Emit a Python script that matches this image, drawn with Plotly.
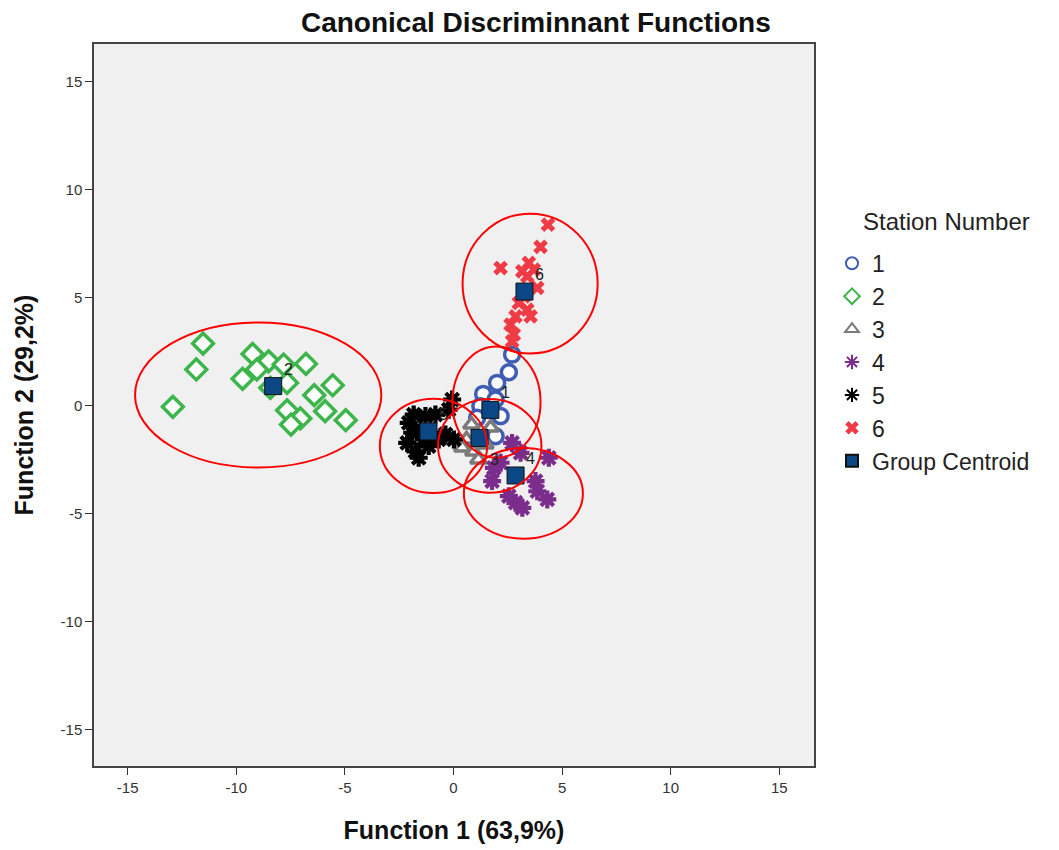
import plotly.graph_objects as go

# ---- data ----
g1_x = [2.70, 2.55, 2.01, 1.37, 1.94, 1.24, 2.17, 1.94, 1.09]
g1_y = [2.36, 1.54, 1.05, 0.54, 0.28, -0.03, -0.49, -1.42, -0.57]

g2_x = [-11.53, -11.84, -12.92, -9.25, -8.51, -7.82, -6.79, -9.05, -9.71,
        -8.43, -7.66, -5.56, -6.41, -7.66, -7.05, -7.48, -5.91, -4.96]
g2_y = [2.87, 1.67, -0.06, 2.39, 2.05, 1.90, 1.93, 1.67, 1.24,
        0.82, 1.05, 0.94, 0.48, -0.22, -0.60, -0.88, -0.26, -0.68]

g3_x = [0.83, 0.60, 0.92, 1.47, 1.71, 1.15, 0.41]
g3_y = [-0.88, -1.57, -2.13, -1.81, -1.02, -2.50, -1.94]

g4_x = [2.70, 4.39, 3.09, 1.86, 1.78, 3.78, 3.86, 4.32, 2.86, 3.17, 2.55, 2.17]
g4_y = [-1.73, -2.42, -2.19, -2.89, -3.50, -3.50, -3.97, -4.35, -4.50, -4.74, -4.20, -2.65]

g5_x = [-1.83, -2.06, -1.90, -2.13, -1.75, -1.60, -1.14, -0.68, -0.37, 0.02,
        -0.22, -0.06, -1.29, -0.83, -1.52, -1.37]
g5_y = [-0.42, -0.80, -1.26, -1.73, -2.12, -2.42, -1.88, -1.57, -1.34, -1.57,
        -0.19, 0.28, -0.49, -0.42, -1.11, -1.57]

g6_x = [4.35, 4.01, 2.17, 3.47, 3.17, 3.70, 3.86, 3.01, 3.40, 2.86, 3.55, 2.63,
        2.78, 2.70, 3.24, 3.40]
g6_y = [8.38, 7.35, 6.37, 6.61, 6.22, 6.30, 5.45, 4.75, 4.44, 4.13, 4.13, 3.75,
        3.29, 2.98, 5.06, 5.99]

cent_labels = ["1", "2", "3", "4", "5", "6"]
cent_x = [1.70, -8.30, 1.20, 2.86, -1.15, 3.27]
cent_y = [-0.20, 0.90, -1.50, -3.24, -1.20, 5.28]

ell_cx = [1.98, -8.99, 1.67, 3.22, -0.92, 3.53]
ell_cy = [0.16, 0.49, -1.87, -4.07, -1.87, 5.65]
ell_rx = [2.03, 5.67, 2.38, 2.74, 2.47, 3.11]
ell_ry = [2.58, 3.36, 2.17, 2.10, 2.18, 3.24]

x_ticks = [-15, -10, -5, 0, 5, 10, 15]
x_tick_text = ["-15", "-10", "-5", "0", "5", "10", "15"]
y_ticks = [-15, -10, -5, 0, 5, 10, 15]
y_tick_text = ["-15", "-10", "-5", "0", "5", "10", "15"]

FONT = "Liberation Sans"

# ---- figure ----
fig = go.Figure()

series = [
    # name, x, y, symbol, fill, line colour, size, line width
    ("1", g1_x, g1_y, "circle", "white", "#3f5db3", 15, 3.5),
    ("2", g2_x, g2_y, "diamond", "white", "#3cb54a", 16, 3.5),
    ("3", g3_x, g3_y, "triangle-up", "white", "#7a7a7a", 14, 3.5),
    ("4", g4_x, g4_y, "asterisk-open", "#7b2d8b", "#7b2d8b", 15, 4.2),
    ("5", g5_x, g5_y, "asterisk-open", "#000000", "#000000", 15, 4.2),
    ("6", g6_x, g6_y, "x", "#ef3b45", "#ef3b45", 13, 0),
]
for name, xs, ys, sym, fill, col, size, lw in series:
    fig.add_trace(go.Scatter(
        x=xs, y=ys, mode="markers", name=name, legendgroup=name,
        marker=dict(symbol=sym, size=size, color=fill,
                    line=dict(color=col, width=lw)),
    ))

fig.add_trace(go.Scatter(
    x=cent_x, y=cent_y, mode="markers", name="Group Centroid",
    legendgroup="centroid",
    marker=dict(symbol="square", size=17, color="#0b4785",
                line=dict(color="#111111", width=1)),
))

# centroid labels
for lab, cx, cy in zip(cent_labels, cent_x, cent_y):
    dy = -22 if lab == "3" else 17
    fig.add_annotation(x=cx, y=cy, text=lab, showarrow=False,
                       xshift=15, yshift=dy,
                       font=dict(family=FONT, size=16, color="#222"))

# ellipses
for cx, cy, rx, ry in zip(ell_cx, ell_cy, ell_rx, ell_ry):
    fig.add_shape(type="circle", xref="x", yref="y",
                  x0=cx - rx, x1=cx + rx, y0=cy - ry, y1=cy + ry,
                  line=dict(color="#ff0000", width=2))

# legend title as annotation
fig.add_annotation(xref="paper", yref="paper", x=1.184, y=0.754,
                   xanchor="center", yanchor="middle", showarrow=False,
                   text="Station Number",
                   font=dict(family=FONT, size=24, color="#222"))

fig.update_layout(
    width=1059, height=850,
    margin=dict(l=94, r=245, t=44, b=84),
    paper_bgcolor="white",
    plot_bgcolor="#f0f0f0",
    title=dict(text="<b>Canonical Discriminnant Functions</b>",
               x=0.506, xanchor="center", y=0.974, yanchor="middle",
               font=dict(family=FONT, size=28, color="#111")),
    legend=dict(
        x=1.025, xanchor="left", y=0.726, yanchor="top",
        font=dict(family=FONT, size=23, color="#222"),
        bgcolor="rgba(0,0,0,0)", itemsizing="constant",
        tracegroupgap=0,
    ),
    showlegend=True,
)

fig.update_xaxes(
    range=[-16.55, 16.6], tickvals=x_ticks, ticktext=x_tick_text,
    ticks="outside", ticklen=7, automargin=False,
    tickcolor="#333", showgrid=False, zeroline=False,
    showline=True, linecolor="#444", linewidth=1.5, mirror=True,
    tickfont=dict(family=FONT, size=15, color="#333"),
    title=dict(text="<b>Function 1 (63,9%)</b>", standoff=27,
               font=dict(family=FONT, size=25, color="#111")),
)
fig.update_yaxes(
    range=[-16.7, 16.75], tickvals=y_ticks, ticktext=y_tick_text,
    ticks="outside", ticklen=7, automargin=False,
    tickcolor="#333", showgrid=False, zeroline=False,
    showline=True, linecolor="#444", linewidth=1.5, mirror=True,
    tickfont=dict(family=FONT, size=15, color="#333"),
    title=dict(text="<b>Function 2 (29,2%)</b>", standoff=20,
               font=dict(family=FONT, size=25, color="#111")),
)

fig.write_html("out.html")
